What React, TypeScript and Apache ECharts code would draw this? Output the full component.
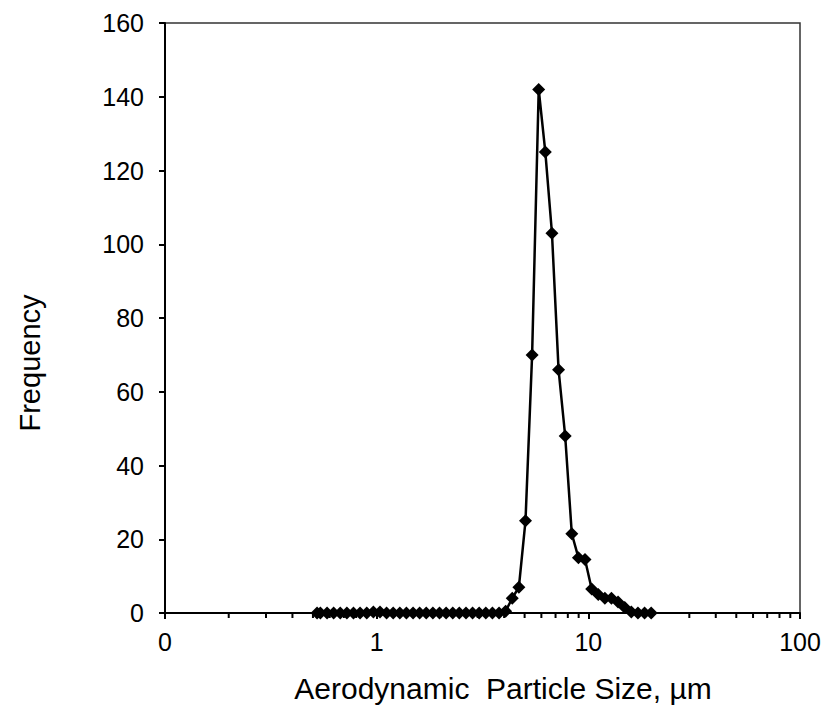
import React, { useEffect, useRef } from "react";
import * as echarts from "echarts";

const sizes = [
  0.523, 0.542, 0.583, 0.626, 0.673, 0.723, 0.777, 0.835, 0.898, 0.965, 1.037, 1.114, 1.197,
  1.286, 1.382, 1.486, 1.596, 1.715, 1.843, 1.981, 2.129, 2.288, 2.458, 2.642, 2.839, 3.051,
  3.278, 3.523, 3.786, 4.068, 4.371, 4.698, 5.048, 5.425, 5.829, 6.264, 6.732, 7.234, 7.774,
  8.354, 8.977, 9.647, 10.37, 11.14, 11.97, 12.86, 13.82, 14.86, 15.96, 17.15, 18.43, 19.81,
];

const frequency = [
  0, 0, 0, 0, 0, 0, 0, 0, 0, 0.3, 0.3, 0, 0, 0, 0, 0, 0, 0, 0, 0, 0, 0, 0, 0, 0, 0, 0, 0, 0,
  0.5, 4, 7, 25, 70, 142, 125, 103, 66, 48, 21.5, 15, 14.5, 6.5, 5, 4, 4, 3, 1.5, 0.3, 0, 0, 0,
];

const minorTickValues = [
  0.2, 0.3, 0.4, 0.5, 0.6, 0.7, 0.8, 0.9, 2, 3, 4, 5, 6, 7, 8, 9, 20, 30, 40, 50, 60, 70, 80, 90,
];

const xTitle = "Aerodynamic  Particle Size, µm";
const yTitle = "Frequency";

const FONT = "'Liberation Sans', Arial, sans-serif";

export default function App() {
  const ref = useRef<HTMLDivElement>(null);

  useEffect(() => {
    if (!ref.current) return;
    const chart = echarts.init(ref.current, null, { renderer: "svg" });
    chart.setOption({
      animation: false,
      backgroundColor: "#fff",
      grid: {
        left: 165,
        right: 27,
        top: 23,
        bottom: 96,
        show: true,
        borderColor: "#333",
        borderWidth: 1.5,
      },
      graphic: [
        {
          type: "text",
          x: 30,
          y: 363,
          rotation: Math.PI / 2,
          style: {
            text: yTitle,
            fontSize: 29,
            fontFamily: FONT,
            fill: "#000",
            textAlign: "center",
            textVerticalAlign: "middle",
          },
        },
        {
          type: "text",
          x: 503,
          y: 688,
          style: {
            text: xTitle,
            fontSize: 30,
            fontFamily: FONT,
            fill: "#000",
            textAlign: "center",
            textVerticalAlign: "middle",
          },
        },
      ],
      xAxis: {
        type: "log",
        logBase: 10,
        min: 0.1,
        max: 100,
        axisLine: { show: true, lineStyle: { color: "#000", width: 2 } },
        axisTick: { show: true, length: 6, lineStyle: { color: "#000", width: 2 } },
        axisLabel: {
          fontSize: 25,
          color: "#000",
          fontFamily: FONT,
          margin: 16,
          formatter: (v: number) => {
            const e = Math.round(Math.log10(v));
            return e < 0 ? "0" : String(Math.pow(10, e));
          },
        },
        splitLine: { show: false },
        minorTick: { show: false },
      },
      yAxis: {
        type: "value",
        min: 0,
        max: 160,
        interval: 20,
        axisLine: { show: true, lineStyle: { color: "#000", width: 2 } },
        axisTick: { show: true, length: 6, lineStyle: { color: "#000", width: 2 } },
        axisLabel: { fontSize: 25, color: "#000", fontFamily: FONT, margin: 21 },
        splitLine: { show: false },
      },
      series: [
        {
          type: "line",
          data: sizes.map((s, i) => [s, frequency[i]]),
          symbol: "diamond",
          symbolSize: 13,
          showAllSymbol: true,
          lineStyle: { color: "#000", width: 2.5 },
          itemStyle: { color: "#000" },
          clip: false,
          z: 5,
        },
        {
          type: "custom",
          silent: true,
          clip: false,
          data: minorTickValues.map((v) => [v, 0]),
          renderItem: (_params: any, api: any) => {
            const p = api.coord([api.value(0), 0]);
            return {
              type: "line",
              shape: { x1: p[0], y1: p[1], x2: p[0], y2: p[1] + 5 },
              style: { stroke: "#000", lineWidth: 2 },
            };
          },
          z: 1,
        },
      ],
    });
    return () => chart.dispose();
  }, []);

  return (
    <div
      ref={ref}
      style={{ position: "fixed", left: 0, top: 0, width: 827, height: 709, background: "#fff" }}
    />
  );
}
